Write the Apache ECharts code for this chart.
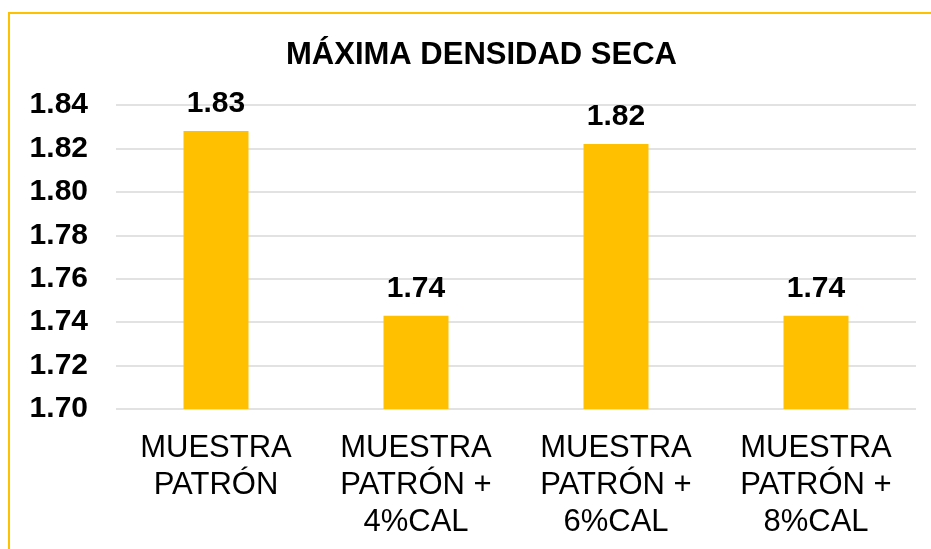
<!DOCTYPE html>
<html>
<head>
<meta charset="utf-8">
<script src="https://cdn.jsdelivr.net/npm/echarts@6/dist/echarts.min.js"></script>
<style>
  html, body { margin: 0; padding: 0; background: #fff; }
  #main { width: 931px; height: 549px; }
</style>
</head>
<body>
<div id="main"></div>
<script>
// datos
var categorias = ['MUESTRA\nPATRÓN', 'MUESTRA\nPATRÓN +\n4%CAL', 'MUESTRA\nPATRÓN +\n6%CAL', 'MUESTRA\nPATRÓN +\n8%CAL'];
var densidad = [1.828, 1.743, 1.822, 1.743];
var ejeMin = 1.70, ejeMax = 1.84, ejePaso = 0.02;

var chart = echarts.init(document.getElementById('main'));
chart.setOption({
  animation: false,
  textStyle: { fontFamily: 'Liberation Sans, Arial, sans-serif' },
  title: {
    text: 'MÁXIMA DENSIDAD SECA',
    left: 281,
    top: 35,
    textStyle: { fontSize: 31, fontWeight: 'bold', color: '#000' }
  },
  graphic: [{
    type: 'rect',
    shape: { x: 9, y: 13, width: 1000, height: 1000 },
    style: { fill: 'none', stroke: '#FFC000', lineWidth: 2 }
  }],
  grid: { left: 116, right: 15, top: 105, bottom: 140 },
  xAxis: {
    type: 'category',
    data: categorias,
    axisTick: { show: false },
    axisLine: { show: false },
    axisLabel: { fontSize: 31, color: '#000', lineHeight: 37, margin: 21 }
  },
  yAxis: {
    type: 'value',
    min: ejeMin,
    max: ejeMax,
    interval: ejePaso,
    axisLine: { show: false },
    axisTick: { show: false },
    splitLine: { lineStyle: { color: '#d9d9d9', width: 1.5 } },
    axisLabel: {
      fontSize: 30, fontWeight: 'bold', color: '#000', margin: 28,
      formatter: function (v) { return v.toFixed(2); }
    }
  },
  series: [{
    type: 'bar',
    data: densidad,
    barWidth: '32.5%',
    itemStyle: { color: '#FFC000' },
    label: {
      show: true,
      position: 'top',
      distance: 12,
      fontSize: 30,
      fontWeight: 'bold',
      color: '#000',
      formatter: function (p) { return p.value.toFixed(2); }
    }
  }]
});
</script>
</body>
</html>
